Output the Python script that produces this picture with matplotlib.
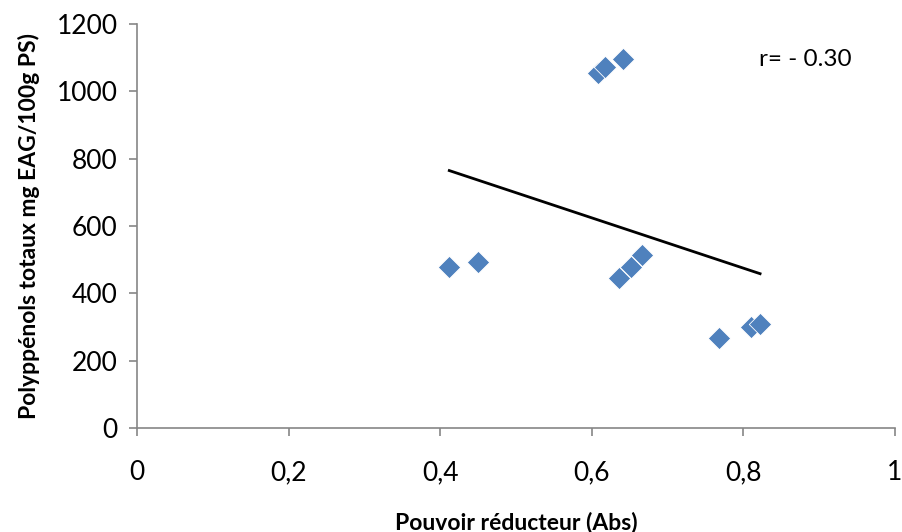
import numpy as np
import matplotlib.pyplot as plt

# reducing power (Abs) vs total polyphenols (mg EAG/100g PS)
pouvoir = [0.412, 0.450, 0.608, 0.617, 0.641, 0.636, 0.652, 0.666, 0.768, 0.810, 0.822]
polyphenols = [478, 493, 1054, 1072, 1096, 445, 478, 514, 267, 300, 309]

x_ticks = [0, 0.2, 0.4, 0.6, 0.8, 1]
x_tick_labels = ['0', '0,2', '0,4', '0,6', '0,8', '1']
y_ticks = [0, 200, 400, 600, 800, 1000, 1200]

plt.rcParams['font.family'] = ['Lato', 'DejaVu Sans']

fig = plt.figure(figsize=(9.03, 5.32), dpi=100)
ax = fig.add_axes([137 / 903, 1 - 428 / 532, 758 / 903, 404 / 532])

ax.scatter(pouvoir, polyphenols, marker='D', s=130, color='#4F81BD',
           edgecolors='white', linewidths=0.6, zorder=3)

# linear trend line over the data range
slope, intercept = np.polyfit(pouvoir, polyphenols, 1)
xs = np.array([min(pouvoir), max(pouvoir)])
ax.plot(xs, slope * xs + intercept, color='black', lw=2, zorder=2)

ax.set_xlim(0, 1)
ax.set_ylim(0, 1200)
ax.set_xticks(x_ticks)
ax.set_xticklabels(x_tick_labels)
ax.set_yticks(y_ticks)

for side in ['top', 'right']:
    ax.spines[side].set_visible(False)
for side in ['left', 'bottom']:
    ax.spines[side].set_color('#868686')
    ax.spines[side].set_linewidth(1.2)
ax.tick_params(axis='both', colors='#868686', labelcolor='black',
               labelsize=19, length=6, width=1.2)
ax.tick_params(axis='x', pad=17)
ax.tick_params(axis='y', pad=8)

ax.set_xlabel('Pouvoir réducteur (Abs)', fontsize=16.5, fontweight='bold', labelpad=19)
ax.set_ylabel('Polyppénols totaux mg EAG/100g PS)', fontsize=16.5, fontweight='bold', labelpad=12)

ax.text(0.82, 1096, 'r= - 0.30', fontsize=17.5, va='center', ha='left')

fig.savefig('out.png', dpi=100)
